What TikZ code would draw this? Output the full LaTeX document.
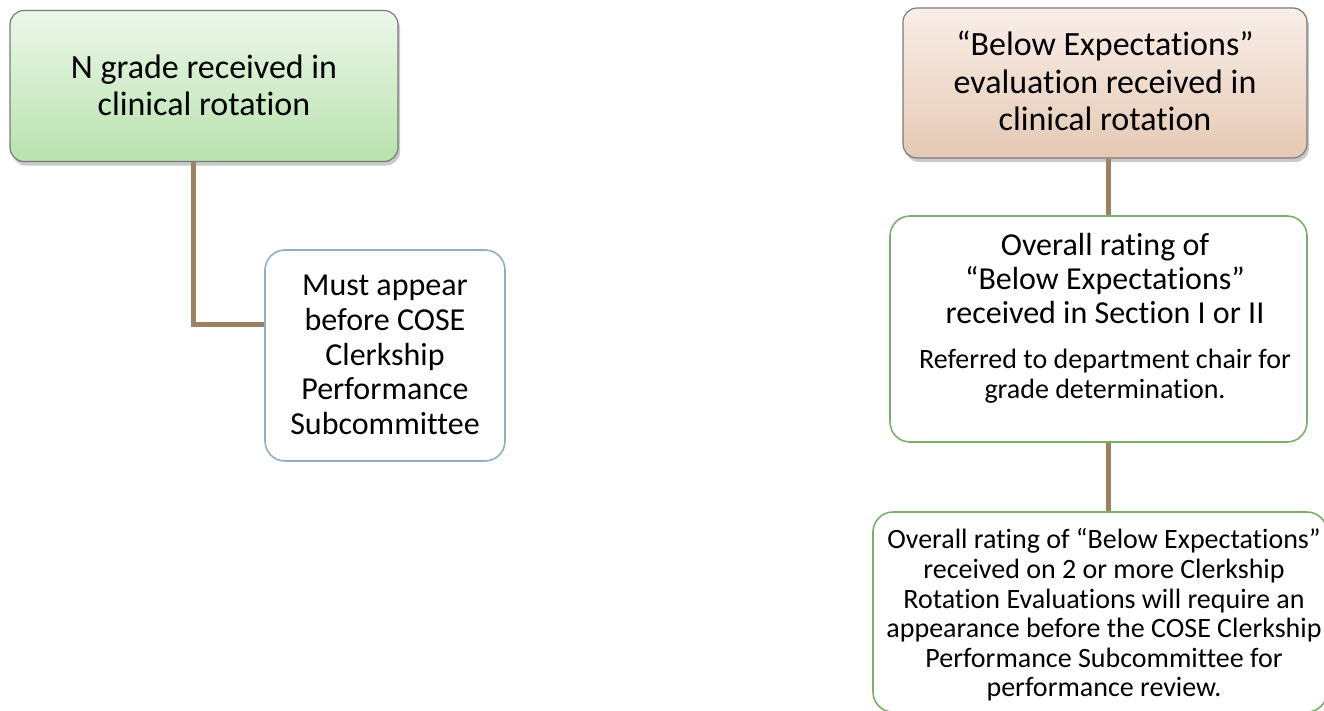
\documentclass[tikz,border=0pt]{standalone}
\usepackage{fontspec}
\setmainfont{Carlito}[RawFeature={-liga;-clig;-calt;-dlig;-rlig}]
\usetikzlibrary{shadows,calc}
\definecolor{conn}{HTML}{9C8263}
\definecolor{gtop}{HTML}{EDF7EA}
\definecolor{gbot}{HTML}{B8E2AD}
\definecolor{btop}{HTML}{F9EEE8}
\definecolor{bbot}{HTML}{E5C9B4}
\definecolor{edgegray}{HTML}{7A7A7A}
\definecolor{blueedge}{HTML}{93ADC2}
\definecolor{greenedge}{HTML}{7BAE6D}
\tikzset{
  topbox/.style={draw=edgegray, line width=1.2pt, rounded corners=14pt, inner sep=0pt,
    drop shadow={shadow xshift=2pt, shadow yshift=-4pt, opacity=0.35, fill=black!60}},
  subbox/.style={draw, line width=1.6pt, rounded corners=20pt, fill=white, inner sep=0pt},
  connector/.style={conn, line width=5pt},
  txt/.style={align=center, inner sep=0pt}
}
\begin{document}
\begin{tikzpicture}[x=1pt,y=-1pt]
\useasboundingbox (0,0) rectangle (1324,710);
% left column
\node[topbox, top color=gtop, bottom color=gbot, minimum width=388pt, minimum height=151pt] (n1) at (204,86) {};
\node[txt, font=\fontsize{34}{37}\selectfont] (t1) at (204,85) {N grade received in\\clinical rotation};
\node[subbox, draw=blueedge, minimum width=240pt, minimum height=211pt] (n2) at (385,355.5) {};
\node[txt, font=\fontsize{32}{34.6}\selectfont] (t2) at (385,355) {Must appear\\before COSE\\Clerkship\\Performance\\Subcommittee};
\coordinate (c1) at (193.5,324);
\draw[connector] (n1.south -| c1) -- (c1) -- (c1 -| n2.west);
% right column
\node[topbox, top color=btop, bottom color=bbot, minimum width=404pt, minimum height=150pt] (n3) at (1105,83) {};
\node[txt, font=\fontsize{34}{37.5}\selectfont] (t3) at (1105,81) {“Below Expectations”\\evaluation received in\\clinical rotation};
\node[subbox, draw=greenedge, minimum width=417pt, minimum height=226pt] (n4) at (1098.5,329) {};
\node[txt, font=\fontsize{32}{34}\selectfont] (t4a) at (1105,278) {Overall rating of\\“Below Expectations”\\received in Section I or II};
\node[txt, font=\fontsize{28}{30}\selectfont] (t4b) at (1105,376) {Referred to department chair for\\grade determination.};
\node[subbox, draw=greenedge, minimum width=454pt, minimum height=200pt] (n5) at (1100,612) {};
\node[txt, font=\fontsize{28}{29.6}\selectfont] (t5) at (1104,615) {Overall rating of “Below Expectations”\\received on 2 or more Clerkship\\Rotation Evaluations will require an\\appearance before the COSE Clerkship\\Performance Subcommittee for\\performance review.};
\coordinate (c2) at (1108.5,0);
\draw[connector] (n3.south -| c2) -- (n4.north -| c2);
\draw[connector] (n4.south -| c2) -- (n5.north -| c2);
\end{tikzpicture}
\end{document}
